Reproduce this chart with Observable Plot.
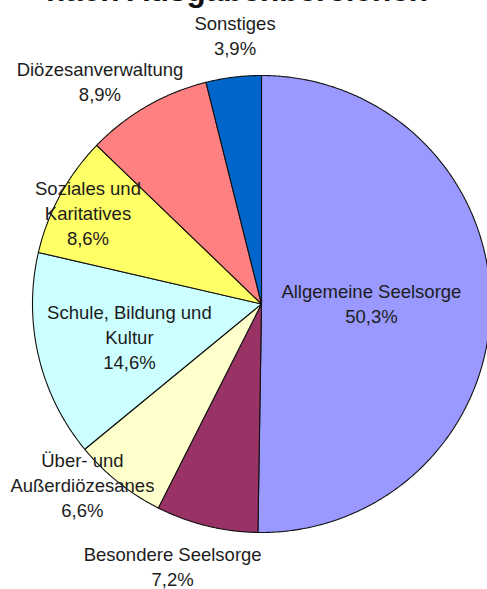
<!DOCTYPE html>
<html><head><meta charset="utf-8">
<script src="https://cdn.jsdelivr.net/npm/d3@7"></script>
<script src="https://cdn.jsdelivr.net/npm/@observablehq/plot@0.6"></script>
<style>
body{margin:0;background:#fff;}
#wrap{position:relative;width:487px;height:589px;overflow:hidden;}
#title{position:absolute;left:0;top:-24.8px;width:474px;text-align:center;font:bold 31.5px "Liberation Sans",Arial,sans-serif;line-height:1;color:#111;white-space:nowrap;}
</style></head><body>
<div id="wrap"><div id="chart"></div><div id="title">nach Ausgabenbereichen</div></div>
<script>
// ---- data ----
const categories = ["Allgemeine Seelsorge","Besondere Seelsorge","Über- und Außerdiözesanes","Schule, Bildung und Kultur","Soziales und Karitatives","Diözesanverwaltung","Sonstiges"];
const labelLines = ["Allgemeine Seelsorge","Besondere Seelsorge","Über- und\nAußerdiözesanes","Schule, Bildung und\nKultur","Soziales und\nKaritatives","Diözesanverwaltung","Sonstiges"];
const shares = [50.3, 7.2, 6.6, 14.6, 8.6, 8.9, 3.9];
const colors = ["#9999FF","#993366","#FFFFCC","#CCFFFF","#FFFF66","#FF8080","#0066CC"];

// ---- layout (label placement in polar form: degrees clockwise from top, radius in pie radii) ----
const labelAngle = [89.2, 198.7, 224.8, 256.2, 298.1, 324.2, 354.4];
const labelRadius = [0.48, 1.21, 1.11, 0.594, 0.859, 1.206, 1.185];

const total = d3.sum(shares);
const rad = Math.PI / 180;
const slicePts = [];
let cum = 0;
shares.forEach((v, i) => {
  const a0 = cum / total * 360, a1 = (cum + v) / total * 360;
  cum += v;
  slicePts.push({cat: categories[i], x: 0, y: 0});
  const n = Math.max(2, Math.ceil((a1 - a0) / 0.4));
  for (let k = 0; k <= n; k++) {
    const a = (a0 + (a1 - a0) * k / n) * rad;
    slicePts.push({cat: categories[i], x: Math.sin(a), y: Math.cos(a)});
  }
  slicePts.push({cat: categories[i], x: 0, y: 0});
});

const labels = categories.map((c, i) => ({
  text: labelLines[i] + "\n" + shares[i].toFixed(1).replace(".", ",") + "%",
  x: labelRadius[i] * Math.sin(labelAngle[i] * rad),
  y: labelRadius[i] * Math.cos(labelAngle[i] * rad)
}));

const chart = Plot.plot({
  width: 487,
  height: 589,
  marginLeft: 32,
  marginRight: -3,
  marginTop: 75,
  marginBottom: 57,
  x: {domain: [-1, 1], axis: null},
  y: {domain: [-1, 1], axis: null},
  color: {domain: categories, range: colors},
  style: {fontFamily: "'Liberation Sans', Arial, sans-serif", background: "transparent"},
  marks: [
    Plot.line(slicePts, {x: "x", y: "y", z: "cat", fill: "cat", stroke: "#111", strokeWidth: 1.1, strokeLinejoin: "round"}),
    Plot.text(labels, {x: "x", y: "y", text: "text", fontSize: 18.5, lineHeight: 1.35, fill: "#1c1c1c", textAnchor: "middle"})
  ]
});
document.getElementById("chart").appendChild(chart);
</script>
</body></html>
